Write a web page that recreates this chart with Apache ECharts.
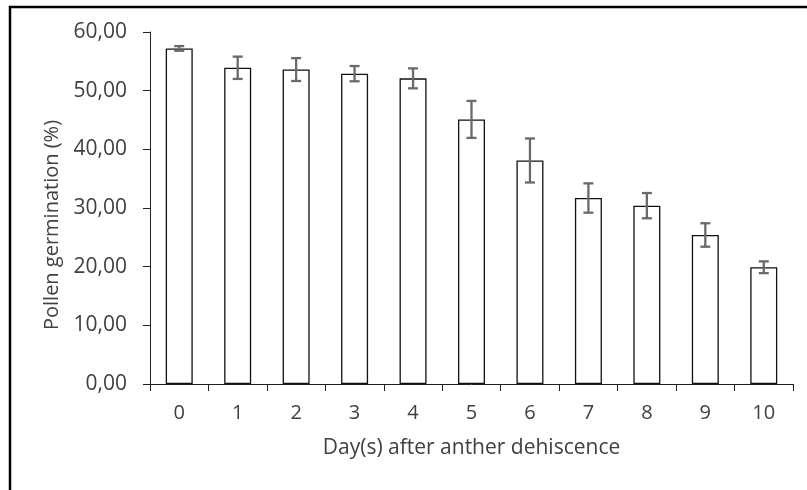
<!DOCTYPE html>
<html>
<head>
<meta charset="utf-8">
<script src="https://cdn.jsdelivr.net/npm/echarts@6/dist/echarts.min.js"></script>
<style>html,body{margin:0;padding:0;background:#fff;}#c{width:807px;height:490px;}</style>
</head>
<body>
<div id="c"></div>
<script>
var days = ['0','1','2','3','4','5','6','7','8','9','10'];
var germination = [57.2, 53.9, 53.6, 52.9, 52.1, 45.1, 38.1, 31.7, 30.4, 25.4, 19.9];
var errors = [0.4, 1.9, 1.95, 1.3, 1.7, 3.15, 3.75, 2.5, 2.15, 2.0, 1.0];
var yTickLabels = ['0,00','10,00','20,00','30,00','40,00','50,00','60,00'];

var font = 'Open Sans';
var chart = echarts.init(document.getElementById('c'), null, {renderer: 'canvas'});
var errData = days.map(function (d, i) { return [i, germination[i] - errors[i], germination[i] + errors[i]]; });

chart.setOption({
  animation: false,
  backgroundColor: '#fff',
  textStyle: {fontFamily: font},
  grid: {left: 150, right: 14, top: 32, bottom: 106, containLabel: false},
  graphic: [{
    type: 'rect', silent: true,
    shape: {x: 10, y: 7, width: 840, height: 540},
    style: {fill: 'none', stroke: '#000', lineWidth: 2.5}
  }],
  xAxis: {
    type: 'category', data: days, boundaryGap: true,
    name: 'Day(s) after anther dehiscence', nameLocation: 'middle', nameGap: 54,
    nameTextStyle: {fontFamily: font, fontSize: 21, color: '#404040'},
    axisLine: {lineStyle: {color: '#222', width: 1}},
    axisTick: {show: true, length: 7, inside: false, alignWithLabel: false, lineStyle: {color: '#222'}},
    axisLabel: {fontFamily: font, fontSize: 20, color: '#404040', margin: 19},
    splitLine: {show: false}
  },
  yAxis: {
    type: 'value', min: 0, max: 60, interval: 10,
    name: 'Pollen germination (%)', nameLocation: 'middle', nameGap: 82,
    nameTextStyle: {fontFamily: font, fontSize: 20, color: '#404040', padding: [0, 34, 0, 0]},
    axisLine: {show: true, lineStyle: {color: '#222', width: 1}},
    axisTick: {show: true, length: 7, inside: false, lineStyle: {color: '#222'}},
    axisLabel: {fontFamily: font, fontSize: 21, color: '#404040', margin: 23,
      formatter: function (v) { return yTickLabels[Math.round(v / 10)]; }},
    splitLine: {show: false}
  },
  series: [{
    type: 'bar', data: germination, barWidth: 27,
    itemStyle: {color: '#fff', borderColor: '#111', borderWidth: 1.3},
    z: 2
  }, {
    type: 'custom', data: errData, z: 3,
    renderItem: function (params, api) {
      var i = api.value(0);
      var lo = api.coord([i, api.value(1)]);
      var hi = api.coord([i, api.value(2)]);
      var x = lo[0], hw = 5;
      var st = {stroke: '#6a6a6a', lineWidth: 2.3};
      return {type: 'group', children: [
        {type: 'line', shape: {x1: x, y1: lo[1], x2: x, y2: hi[1]}, style: st},
        {type: 'line', shape: {x1: x - hw, y1: lo[1], x2: x + hw, y2: lo[1]}, style: st},
        {type: 'line', shape: {x1: x - hw, y1: hi[1], x2: x + hw, y2: hi[1]}, style: st}
      ]};
    }
  }]
});
</script>
</body>
</html>
